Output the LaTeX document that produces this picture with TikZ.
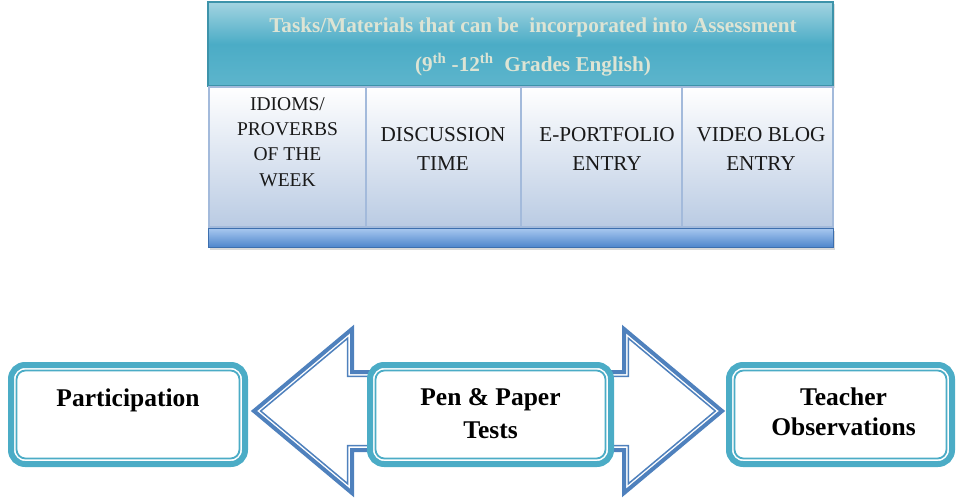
\documentclass[tikz,border=0pt]{standalone}
\usepackage{fontspec}
\setmainfont{Liberation Serif}
\usetikzlibrary{shadows}
\definecolor{tealline}{HTML}{4BACC6}
\definecolor{arrowblue}{HTML}{4F81BD}
\definecolor{hdrtop}{HTML}{A3D4E1}
\definecolor{hdrmid}{HTML}{4BACC6}
\definecolor{hdrbot}{HTML}{5DB5CC}
\definecolor{hdrborder}{HTML}{3D93AA}
\definecolor{hdrtext}{HTML}{DDE4D4}
\definecolor{colbot}{HTML}{BACBE3}
\definecolor{colline}{HTML}{A3BADB}
\definecolor{bartop}{HTML}{A9C9F0}
\definecolor{barbot}{HTML}{4F86CC}
\definecolor{barborder}{HTML}{3D6FAE}
\begin{document}
\begin{tikzpicture}[x=1pt,y=-1pt,
  header/.style={draw=hdrborder, line width=1.2, top color=hdrtop, bottom color=hdrbot, middle color=hdrmid,
    minimum width=625, minimum height=84, inner sep=0, outer sep=0,
    drop shadow={opacity=0.25, shadow xshift=2pt, shadow yshift=-2pt}},
  hdrtxt/.style={text=hdrtext, font=\fontsize{21.2}{24}\selectfont\bfseries, inner sep=0},
  colbox/.style={draw=colline, line width=1.6, top color=white, bottom color=colbot,
    minimum height=140, inner sep=0, outer sep=0},
  coltxt/.style={font=\fontsize{21.2}{28.3}\selectfont, align=center, inner sep=0, text=black!90},
  barbox/.style={draw=barborder, line width=1, top color=bartop, bottom color=barbot,
    minimum width=625, minimum height=19, inner sep=0, outer sep=0,
    drop shadow={opacity=0.3, shadow xshift=2pt, shadow yshift=-3pt}},
  rbox/.style={draw=tealline, line width=6, rounded corners=14, fill=white,
    minimum height=99, inner sep=0, outer sep=0},
  rinner/.style={draw=tealline, line width=1.8, rounded corners=9},
  boxtxt/.style={font=\fontsize{25.5}{31}\selectfont\bfseries, align=center, inner sep=0},
  arrowouter/.style={draw=arrowblue, line width=4, fill=white, line join=miter},
  arrowinner/.style={draw=arrowblue, line width=1.5, line join=miter}
]
\useasboundingbox (0,0) rectangle (956,503);

% ---------- top block ----------
\node[header] (hdr) at (520.5,44) {};
\node[hdrtxt, anchor=base] (h1) at (533,33) {Tasks/Materials that can be\ \ incorporated into Assessment};
\node[hdrtxt, anchor=base] (h2) at (533,71) {(9\textsuperscript{th} -12\textsuperscript{th}\ \ Grades English)};

\node[colbox, minimum width=157] (c1) at (287.5,157) {};
\node[colbox, minimum width=155] (c2) at (443.5,157) {};
\node[colbox, minimum width=161] (c3) at (601.5,157) {};
\node[colbox, minimum width=151] (c4) at (757.5,157) {};

% anchor=base of a multi-line node = baseline of its last line
\node[coltxt, font=\fontsize{19.5}{25.3}\selectfont, anchor=base] (t1) at (287.5,186) {IDIOMS/\\PROVERBS\\OF THE\\WEEK};
\node[coltxt, anchor=base] (t2) at (443,170) {DISCUSSION\\TIME};
\node[coltxt, anchor=base] (t3) at (607,170) {E-PORTFOLIO\\ENTRY};
\node[coltxt, anchor=base] (t4) at (761,170) {VIDEO BLOG\\ENTRY};

\node[barbox] (bar) at (520.5,237.5) {};

% ---------- block arrows ----------
\draw[arrowouter] (254,411) -- (352,329) -- (352,372) -- (420,372) -- (420,450) -- (352,450) -- (352,493) -- cycle;
\draw[arrowinner] (260.7,411) -- (347.7,338.2) -- (347.7,376.3) -- (415.7,376.3) -- (415.7,445.7) -- (347.7,445.7) -- (347.7,483.8) -- cycle;
\draw[arrowouter] (722,411) -- (624,329) -- (624,372) -- (556,372) -- (556,450) -- (624,450) -- (624,493) -- cycle;
\draw[arrowinner] (715.3,411) -- (628.3,338.2) -- (628.3,376.3) -- (560.3,376.3) -- (560.3,445.7) -- (628.3,445.7) -- (628.3,483.8) -- cycle;

% ---------- bottom boxes ----------
\node[rbox, minimum width=234] (part) at (128,414.5) {};
\node[rbox, minimum width=241] (pen) at (490.5,414.5) {};
\node[rbox, minimum width=223] (teach) at (840.5,414.5) {};
\foreach \b in {part,pen,teach}{
  \draw[rinner] ([xshift=5.5pt,yshift=-5.5pt]\b.north west) rectangle ([xshift=-5.5pt,yshift=5.5pt]\b.south east);
}

\node[boxtxt, anchor=base] (ptxt) at (128,406) {Participation};
\node[boxtxt, anchor=base, font=\fontsize{25.5}{33}\selectfont\bfseries] (pentxt) at (490.5,438) {Pen \& Paper\\Tests};
\node[boxtxt, anchor=base, font=\fontsize{25.5}{29.5}\selectfont\bfseries] (teachtxt) at (843.5,435) {Teacher\\Observations};
\end{tikzpicture}
\end{document}
